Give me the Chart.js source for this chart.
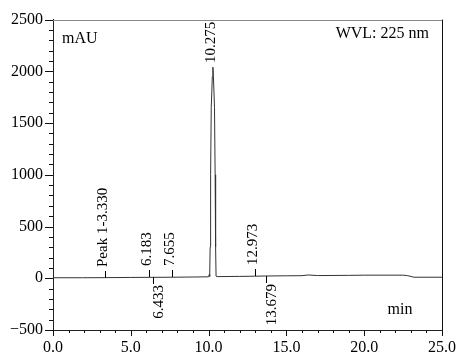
<!DOCTYPE html>
<html>
<head>
<meta charset="utf-8">
<script src="https://cdn.jsdelivr.net/npm/chart.js@4"></script>
<style>
  html, body { margin: 0; padding: 0; background: #fff; }
  #wrap { width: 464px; height: 362px; }
</style>
</head>
<body>
<div id="wrap"><canvas id="chart" width="464" height="362"></canvas></div>
<script>
// retention time (min) and detector signal (mAU)
const times  = [0, 1.9, 3.33, 5, 6.18, 6.43, 7.66, 9, 10.0, 10.04, 10.06,
                10.08, 10.1, 10.13, 10.17, 10.24, 10.275, 10.31, 10.38, 10.42, 10.45, 10.48, 10.55,
                12, 12.97, 13.68, 15, 16.0, 16.4, 17, 19, 20, 22.5, 22.8, 23.2, 25];
const signal = [5, 5, 6, 8, 9, 9, 10, 12, 14, 35, 18,
                20, 300, 1000, 1650, 1950, 2040, 1950, 1650, 1000, 300, 20, 16,
                18, 20, 22, 24, 25, 32, 26, 28, 30, 30, 25, 10, 10];

// peak annotations
const peakTimes   = [3.330, 6.183, 6.433, 7.655, 10.275, 12.973, 13.679];
const peakNames   = ["Peak 1-3.330", "6.183", "6.433", "7.655", "10.275", "12.973", "13.679"];
const peakHeights = [6, 9, 9, 10, 2040, 20, 22];
const peakBelow   = [false, false, true, false, false, false, true];

const xMin = 0, xMax = 25, xStep = 5;
const yMin = -500, yMax = 2500, yStep = 500;

const serif = '"Liberation Serif", "Times New Roman", serif';

const extras = {
  id: "extras",
  afterDraw(chart) {
    const { ctx, chartArea: a, scales: { x, y } } = chart;
    ctx.save();
    ctx.lineWidth = 1;

    // top (grey) and right (black) frame
    ctx.fillStyle = "#8a8a8a";
    ctx.fillRect(a.left, Math.round(a.top), a.right - a.left, 1);
    ctx.fillStyle = "#111";
    ctx.fillRect(Math.round(a.right), a.top, 1, a.bottom - a.top);

    // axis ticks, major + minor
    ctx.fillStyle = "#111";
    for (let t = xMin; t <= xMax; t++) {
      const px = Math.round(x.getPixelForValue(t));
      const len = t % xStep === 0 ? 6 : 3;
      ctx.fillRect(px, Math.round(a.bottom), 1, len);
    }
    for (let v = yMin; v <= yMax; v += 100) {
      const py = Math.round(y.getPixelForValue(v));
      const len = v % yStep === 0 ? 8 : 4;
      ctx.fillRect(Math.round(a.left) - len, py, len, 1);
    }

    // peak labels
    ctx.fillStyle = "#000";
    ctx.font = "15px " + serif;
    ctx.textBaseline = "alphabetic";
    peakTimes.forEach((t, i) => {
      const px = Math.round(x.getPixelForValue(t));
      const py = Math.round(y.getPixelForValue(peakHeights[i]));
      const big = peakHeights[i] > 1000;
      ctx.save();
      if (peakBelow[i]) {
        ctx.fillRect(px, py, 1, 7);
        ctx.translate(px + 10, py + 8);
        ctx.rotate(-Math.PI / 2);
        ctx.textAlign = "right";
      } else {
        if (!big) ctx.fillRect(px, py - 7, 1, 7);
        ctx.translate(px + 2, py - (big ? 4 : 11));
        ctx.rotate(-Math.PI / 2);
        ctx.textAlign = "left";
      }
      ctx.fillText(peakNames[i], 0, 0);
      ctx.restore();
    });

    // corner texts
    ctx.font = "16px " + serif;
    ctx.textBaseline = "middle";
    ctx.textAlign = "left";
    ctx.fillText("mAU", a.left + 9, a.top + 19);
    ctx.textAlign = "right";
    ctx.fillText("WVL: 225 nm", a.right - 13, a.top + 14);
    ctx.textAlign = "center";
    ctx.fillText("min", a.right - 42, a.bottom - 20);
    ctx.restore();
  }
};

new Chart(document.getElementById("chart"), {
  type: "line",
  data: {
    datasets: [{
      data: times.map((t, i) => ({ x: t, y: signal[i] })),
      borderColor: "#333",
      borderWidth: 1,
      pointRadius: 0,
      tension: 0,
      fill: false
    }]
  },
  options: {
    responsive: false,
    animation: false,
    layout: { padding: { top: 13, right: 17, left: 0, bottom: 0 } },
    plugins: { legend: { display: false }, tooltip: { enabled: false } },
    scales: {
      x: {
        type: "linear",
        min: xMin, max: xMax,
        grid: { display: false, drawTicks: false },
        border: { display: true, color: "#222", width: 1 },
        ticks: {
          stepSize: xStep, color: "#000", padding: 8,
          font: { family: serif, size: 16 },
          maxRotation: 0,
          callback: v => v.toFixed(1)
        },
        afterFit: s => { s.height = 32; }
      },
      y: {
        min: yMin, max: yMax,
        grid: { display: false, drawTicks: false },
        border: { display: true, color: "#222", width: 1 },
        ticks: {
          stepSize: yStep, color: "#000", padding: 10,
          font: { family: serif, size: 16 },
          callback: v => v < 0 ? "\u2212" + Math.abs(v) : String(v)
        },
        afterFit: s => { s.width = 53; }
      }
    }
  },
  plugins: [extras]
});
</script>
</body>
</html>
